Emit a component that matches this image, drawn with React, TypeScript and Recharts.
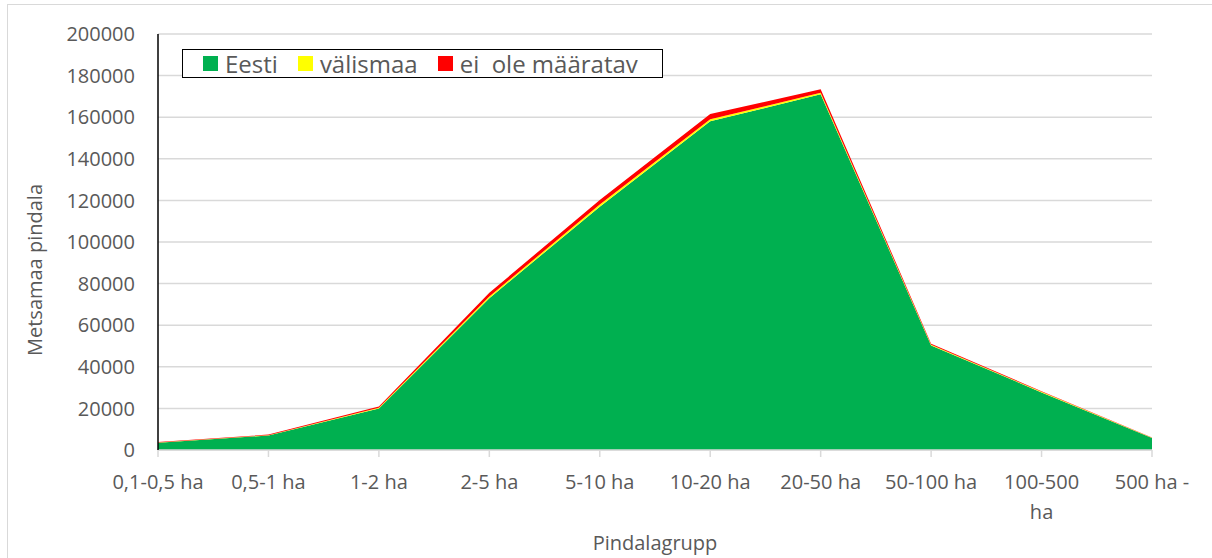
import { Area, AreaChart, CartesianGrid, Label, XAxis, YAxis } from "recharts";

const groups = [
  "0,1-0,5 ha",
  "0,5-1 ha",
  "1-2 ha",
  "2-5 ha",
  "5-10 ha",
  "10-20 ha",
  "20-50 ha",
  "50-100 ha",
  "100-500 ha",
  "500 ha -",
];
const eesti = [3500, 7000, 20000, 73000, 117000, 158000, 171000, 50300, 27700, 5800];
const valismaa = [100, 150, 300, 800, 1000, 1000, 700, 300, 300, 50];
const eiOle = [200, 250, 600, 1800, 2200, 2500, 1700, 500, 300, 100];
const yTicks = [0, 20000, 40000, 60000, 80000, 100000, 120000, 140000, 160000, 180000, 200000];

const data = groups.map((group, i) => ({
  group,
  eesti: eesti[i],
  valismaa: valismaa[i],
  eiOle: eiOle[i],
}));

const FONT = "'Open Sans', sans-serif";
const TEXT = "#595959";
const GRID = "#d9d9d9";

const legendItems = [
  { label: "Eesti", color: "#00b050" },
  { label: "välismaa", color: "#ffff00" },
  { label: "ei  ole määratav", color: "#ff0000" },
];

// Excel wrapped this one label onto two lines
const wrapped: Record<string, string[]> = { "100-500 ha": ["100-500", "ha"] };

function GroupTick({ x, y, payload }: any) {
  const lines = wrapped[payload.value] ?? [payload.value];
  return (
    <text x={x} y={y} textAnchor="middle" fill={TEXT} fontSize={20} fontFamily={FONT}>
      {lines.map((line, i) => (
        <tspan key={i} x={x} dy={30}>
          {line}
        </tspan>
      ))}
    </text>
  );
}

function LegendBox() {
  return (
    <div
      style={{
        position: "absolute",
        left: 182,
        top: 49,
        display: "flex",
        alignItems: "center",
        height: 27,
        padding: "0 4px 0 20px",
        border: "1.5px solid #000",
        background: "#fff",
        fontFamily: FONT,
        fontSize: 24,
        color: TEXT,
        whiteSpace: "pre",
      }}
    >
      {legendItems.map((item) => (
        <span key={item.label} style={{ display: "flex", alignItems: "center", marginRight: 20 }}>
          <span style={{ width: 15, height: 15, background: item.color, marginRight: 7 }} />
          {item.label}
        </span>
      ))}
    </div>
  );
}

export default function App() {
  return (
    <div
      style={{
        position: "fixed",
        left: 0,
        top: 0,
        width: 1212,
        height: 558,
        overflow: "hidden",
        background: "#fff",
      }}
    >
      <div
        style={{
          position: "absolute",
          left: 7,
          top: 4,
          width: 1400,
          height: 700,
          border: `1.5px solid ${GRID}`,
        }}
      />
      <div style={{ position: "absolute", left: 0, top: 0 }}>
        <AreaChart width={1212} height={558} data={data} margin={{ top: 34, right: 60, bottom: 0, left: 58 }}>
          <CartesianGrid stroke={GRID} strokeWidth={1.5} vertical={false} />
          <XAxis
            dataKey="group"
            height={108}
            stroke={GRID}
            strokeWidth={1.5}
            tickSize={7}
            tick={<GroupTick />}
            interval={0}
          >
            <Label
              content={({ viewBox }: any) => (
                <text
                  x={viewBox.x + viewBox.width / 2}
                  y={550}
                  textAnchor="middle"
                  fill={TEXT}
                  fontSize={20}
                  fontFamily={FONT}
                >
                  Pindalagrupp
                </text>
              )}
            />
          </XAxis>
          <YAxis
            width={100}
            domain={[0, 200000]}
            ticks={yTicks}
            stroke="#000"
            strokeWidth={1.5}
            tickLine={false}
            tickSize={0}
            tickMargin={23}
            tick={{ fill: TEXT, fontSize: 20, fontFamily: FONT }}
          >
            <Label
              content={({ viewBox }: any) => {
                const x = viewBox.x - 16;
                const y = viewBox.y + viewBox.height / 2 + 28;
                return (
                  <text
                    x={x}
                    y={y}
                    transform={`rotate(-90, ${x}, ${y})`}
                    textAnchor="middle"
                    fill={TEXT}
                    fontSize={20}
                    fontFamily={FONT}
                  >
                    Metsamaa pindala
                  </text>
                );
              }}
            />
          </YAxis>
          <Area
            type="linear"
            dataKey="eesti"
            name="Eesti"
            stackId="a"
            stroke="none"
            fill="#00b050"
            fillOpacity={1}
            isAnimationActive={false}
          />
          <Area
            type="linear"
            dataKey="valismaa"
            name="välismaa"
            stackId="a"
            stroke="none"
            fill="#ffff00"
            fillOpacity={1}
            isAnimationActive={false}
          />
          <Area
            type="linear"
            dataKey="eiOle"
            name="ei ole määratav"
            stackId="a"
            stroke="none"
            fill="#ff0000"
            fillOpacity={1}
            isAnimationActive={false}
          />
        </AreaChart>
      </div>
      <LegendBox />
    </div>
  );
}
